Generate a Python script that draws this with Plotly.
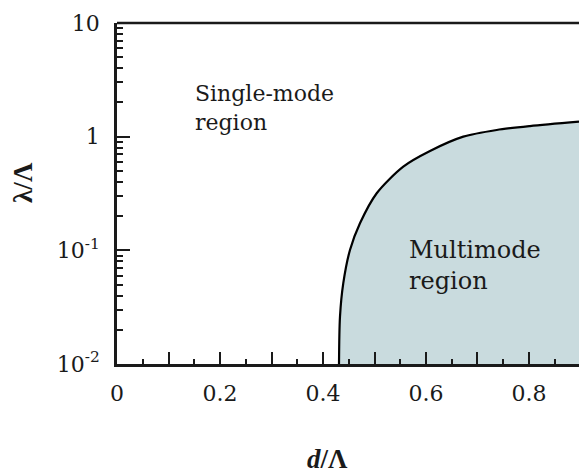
import plotly.graph_objects as go

# Boundary curve between single-mode and multimode regions
d_over_L = [0.4311, 0.4330, 0.4394, 0.4524, 0.4718, 0.5043, 0.5559, 0.6078, 0.6724, 0.7373, 0.8019, 0.8971]
lam_over_L = [0.0100, 0.0261, 0.0514, 0.1008, 0.173, 0.318, 0.545, 0.748, 1.0, 1.145, 1.24, 1.355]

x_range = [0, 0.8971]
y_min, y_max = 0.01, 10

x_tickvals = [0, 0.1, 0.2, 0.3, 0.4, 0.5, 0.6, 0.7, 0.8]
x_ticktext = ["0", "", "0.2", "", "0.4", "", "0.6", "", "0.8"]
y_tickvals = [0.01, 0.1, 1, 10]
y_ticktext = ["10<sup>-2</sup>", "10<sup>-1</sup>", "1", "10"]
y_minor = [m * 10 ** e for e in (-2, -1, 0) for m in range(2, 10)]

FONT = "DejaVu Serif"
TFONT = "Times"
AX = "#1a1a1a"
FILL = "#c9dbde"

fig = go.Figure()
# baseline at the axis minimum
fig.add_trace(go.Scatter(x=d_over_L, y=[y_min] * len(d_over_L), mode="lines",
                         line=dict(width=0), hoverinfo="skip", showlegend=False))
fig.add_trace(go.Scatter(x=d_over_L, y=lam_over_L, mode="lines", fill="tonexty",
                         fillcolor=FILL, line=dict(color="black", width=2.2, shape="spline", smoothing=0.8),
                         showlegend=False))

fig.update_layout(
    width=579, height=473,
    margin=dict(l=117, r=0, t=23, b=109),
    paper_bgcolor="white", plot_bgcolor="white",
    font=dict(family=FONT, size=22, color="#1a1a1a"),
    showlegend=False,
    xaxis=dict(range=x_range, tickvals=x_tickvals, ticktext=x_ticktext,
               ticks="inside", ticklen=12, tickwidth=1.5, tickcolor=AX,
               minor=dict(dtick=0.05, tick0=0, ticks="inside", ticklen=5, tickwidth=1.5, tickcolor=AX),
               showline=True, linecolor=AX, linewidth=2.5, showgrid=False, zeroline=False,
               tickfont=dict(family=FONT, size=22), ticklabelstandoff=8),
    yaxis=dict(type="log", range=[-2, 1], tickvals=y_tickvals, ticktext=y_ticktext,
               ticks="inside", ticklen=13, tickwidth=1.5, tickcolor=AX,
               minor=dict(tickvals=y_minor, ticks="inside", ticklen=6, tickwidth=1.5, tickcolor=AX),
               showline=True, linecolor=AX, linewidth=2.5, showgrid=False, zeroline=False,
               tickfont=dict(family=FONT, size=22), ticklabelstandoff=10),
    shapes=[dict(type="line", xref="paper", yref="paper", x0=0, x1=1, y0=1, y1=1,
                 line=dict(color=AX, width=2.5))],
    annotations=[
        dict(text="Single-mode<br>region", x=0.1476, y=0.25, xref="x", yref="y",
             xanchor="left", yanchor="middle", align="left", showarrow=False,
             font=dict(family=FONT, size=22)),
        dict(text="Multimode<br>region", x=0.563, y=-1.137, xref="x", yref="y",
             xanchor="left", yanchor="middle", align="left", showarrow=False,
             font=dict(family=FONT, size=24)),
        dict(text="<b><i>d</i>/Λ</b>", x=0.4567, y=-0.2786, xref="paper", yref="paper",
             xanchor="center", yanchor="middle", showarrow=False,
             font=dict(family=TFONT, size=27)),
        dict(text="<b>λ/Λ</b>", x=-0.2035, y=0.534, xref="paper", yref="paper",
             xanchor="center", yanchor="middle", showarrow=False, textangle=-90,
             font=dict(family=TFONT, size=27)),
    ],
)

fig.write_html("out.html")
